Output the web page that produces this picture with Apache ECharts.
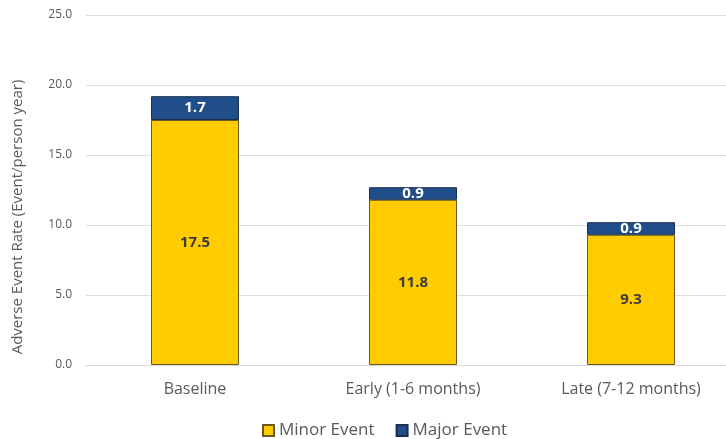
<!DOCTYPE html>
<html>
<head>
<meta charset="utf-8">
<script src="https://cdn.jsdelivr.net/npm/echarts@6/dist/echarts.min.js"></script>
<style>
  html, body { margin: 0; padding: 0; background: #ffffff; overflow: hidden; }
  #chart { width: 740px; height: 439px; }
</style>
</head>
<body>
<div id="chart"></div>
<script>
// Adverse event rates by period, split into minor and major events
const categories = ['Baseline', 'Early (1-6 months)', 'Late (7-12 months)'];
const minorEvents = [17.5, 11.8, 9.3];
const majorEvents = [1.7, 0.9, 0.9];
const yTicks = { min: 0, max: 25, interval: 5 };

const chart = echarts.init(document.getElementById('chart'), null, { renderer: 'canvas' });

const fontFamily = 'Open Sans, "Noto Sans", Calibri, sans-serif';

chart.setOption({
  animation: false,
  backgroundColor: '#ffffff',
  grid: { left: 86, top: 15, right: 0, height: 350, containLabel: false },
  legend: {
    top: 417,
    left: 257,
    itemWidth: 11,
    itemHeight: 11,
    itemGap: 21,
    icon: 'rect',
    textStyle: { color: '#595959', fontSize: 17, fontFamily: fontFamily },
    data: ['Minor Event', 'Major Event']
  },
  xAxis: {
    type: 'category',
    data: categories,
    axisLine: { lineStyle: { color: '#d9d9d9' } },
    axisTick: { show: false },
    axisLabel: { color: '#595959', fontSize: 16, margin: 16, fontFamily: fontFamily }
  },
  yAxis: {
    type: 'value',
    min: yTicks.min,
    max: yTicks.max,
    interval: yTicks.interval,
    name: 'Adverse Event Rate (Event/person year)',
    nameLocation: 'middle',
    nameGap: 61,
    nameTextStyle: {
      color: '#595959', fontSize: 15, fontFamily: fontFamily,
      padding: [0, 54, 0, 0]
    },
    axisLine: { show: false },
    axisTick: { show: false },
    axisLabel: {
      color: '#595959', fontSize: 12, margin: 14, fontFamily: fontFamily,
      formatter: v => v.toFixed(1)
    },
    splitLine: { lineStyle: { color: '#dedede', width: 1 } }
  },
  series: [
    {
      name: 'Minor Event',
      type: 'bar',
      stack: 'events',
      barWidth: 88,
      data: minorEvents,
      itemStyle: { color: '#ffcc00', borderColor: '#6b5a1e', borderWidth: 1 },
      label: {
        show: true,
        position: 'inside',
        color: '#3b3b3b',
        fontWeight: 'bold',
        fontSize: 15,
        fontFamily: fontFamily,
        formatter: p => p.value.toFixed(1)
      }
    },
    {
      name: 'Major Event',
      type: 'bar',
      stack: 'events',
      barWidth: 88,
      data: majorEvents,
      itemStyle: { color: '#1f4e8a', borderColor: '#1b2f4d', borderWidth: 1 },
      label: {
        show: true,
        position: 'inside',
        color: '#ffffff',
        fontWeight: 'bold',
        fontSize: 15,
        fontFamily: fontFamily,
        formatter: p => p.value.toFixed(1)
      }
    }
  ]
});
</script>
</body>
</html>
